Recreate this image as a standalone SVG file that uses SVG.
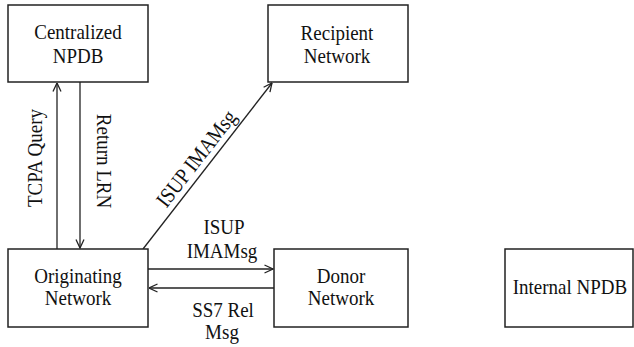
<svg xmlns="http://www.w3.org/2000/svg" width="634" height="347" viewBox="0 0 634 347">
<style>
.box{fill:#fff;stroke:#222;stroke-width:1.5}
.t{font-family:"Liberation Serif","Times New Roman",serif;font-size:19px;fill:#111;text-anchor:middle}
.c{stroke:#222;stroke-width:1.3;fill:none;marker-end:url(#ah)}
</style>
<defs>
<marker id="ah" viewBox="0 0 10 10" refX="9.5" refY="5" markerWidth="10" markerHeight="10" markerUnits="userSpaceOnUse" orient="auto">
<path d="M1,1 L9.5,5 L1,9" fill="none" stroke="#222" stroke-width="1.3"/>
</marker>
</defs>
<rect width="634" height="347" fill="#fff"/>
<g id="connectors">
<line class="c" x1="57" y1="249" x2="57" y2="83"/>
<line class="c" x1="80" y1="82" x2="80" y2="248"/>
<line class="c" x1="143" y1="249" x2="272" y2="83"/>
<line class="c" x1="148" y1="269" x2="273" y2="269"/>
<line class="c" x1="274" y1="288" x2="149" y2="288"/>
<text class="t" transform="translate(42,158) rotate(-90) scale(1,1.15)">TCPA Query</text>
<text class="t" transform="translate(97,161) rotate(90) scale(1,1.15)">Return LRN</text>
<text class="t" transform="translate(202,163) rotate(-52.2) scale(1,1.15)">ISUP  IMAMsg</text>
<text class="t" transform="translate(224,234) scale(1,1.15)">ISUP</text>
<text class="t" transform="translate(222,258) scale(1,1.15)">IMAMsg</text>
<text class="t" transform="translate(223,317) scale(1,1.15)">SS7 Rel</text>
<text class="t" transform="translate(222,339) scale(1,1.15)">Msg</text>
</g>
<g id="centralized">
<rect class="box" x="8" y="5" width="140" height="77"/>
<text class="t" transform="translate(78,39) scale(1,1.15)">Centralized</text>
<text class="t" transform="translate(78,63) scale(1,1.15)">NPDB</text>
</g>
<g id="recipient">
<rect class="box" x="268" y="5" width="140" height="77"/>
<text class="t" transform="translate(337,40) scale(1,1.15)">Recipient</text>
<text class="t" transform="translate(337,63) scale(1,1.15)">Network</text>
</g>
<g id="originating">
<rect class="box" x="8" y="249" width="140" height="78"/>
<text class="t" transform="translate(78,283) scale(1,1.15)">Originating</text>
<text class="t" transform="translate(78,305) scale(1,1.15)">Network</text>
</g>
<g id="donor">
<rect class="box" x="274" y="249" width="134" height="78"/>
<text class="t" transform="translate(341,283) scale(1,1.15)">Donor</text>
<text class="t" transform="translate(341,305) scale(1,1.15)">Network</text>
</g>
<g id="internal">
<rect class="box" x="505" y="249" width="128" height="78"/>
<text class="t" transform="translate(570,294) scale(1,1.15)">Internal NPDB</text>
</g>
</svg>
